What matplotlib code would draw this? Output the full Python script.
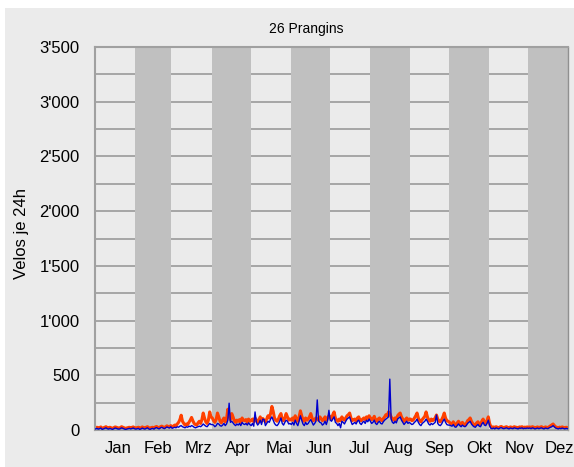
import matplotlib
matplotlib.use("Agg")
import matplotlib.pyplot as plt
from matplotlib.ticker import FuncFormatter, MultipleLocator
from matplotlib.patches import Rectangle
import numpy as np

plt.rcParams['font.family'] = ['Liberation Sans', 'DejaVu Sans']

title = "26 Prangins"
ylabel = "Velos je 24h"
months = ["Jan", "Feb", "Mrz", "Apr", "Mai", "Jun", "Jul", "Aug", "Sep", "Okt", "Nov", "Dez"]
month_days = [31, 28, 31, 30, 31, 30, 31, 31, 30, 31, 30, 31]

orange_jan = [20,25,18,22,28,15,20,24,30,22,18,25,20,15,22,28,25,20,18,22,30,25,20,15,18,22,25,20,24,28,22]
blue_jan = [10,15,8,12,18,5,10,14,20,12,8,15,10,5,12,18,15,10,8,12,20,15,10,5,8,12,15,10,14,18,12]
orange_feb = [18,22,25,15,20,28,22,18,25,30,20,15,22,25,18,28,32,25,20,30,35,28,22,30,38,32,28,40]
blue_feb = [8,12,15,5,10,18,12,8,15,20,10,5,12,15,8,18,22,15,10,20,25,18,12,20,28,22,18,30]
orange_mar = [30,35,45,40,55,70,95,135,80,60,45,55,50,70,90,115,85,60,50,45,65,80,60,95,155,110,75,60,90,165,120]
blue_mar = [15,20,25,20,30,25,35,40,30,25,20,30,25,35,30,40,35,25,20,25,30,35,30,40,55,45,35,30,45,60,50]
orange_apr = [110,85,70,95,155,120,80,65,90,110,75,100,190,140,95,150,120,85,70,90,80,95,70,110,90,85,95,70,100,80]
blue_apr = [50,45,30,40,60,55,40,35,45,60,40,55,90,245,70,80,65,50,40,55,45,60,40,70,55,50,60,45,65,50]
orange_may = [85,100,75,110,90,70,95,120,80,105,90,75,100,130,110,150,215,170,110,90,80,100,130,150,95,85,110,150,120,90,100]
blue_may = [40,60,35,165,70,45,60,90,50,100,95,40,60,80,70,100,120,90,60,45,40,55,80,110,60,45,70,90,80,55,60]
orange_jun = [90,110,85,130,100,80,120,175,130,95,80,110,90,100,120,150,110,85,95,110,100,90,120,105,85,95,120,90,110,130]
blue_jun = [50,70,45,90,60,40,80,130,90,55,40,70,50,60,80,95,70,45,60,80,275,85,70,65,45,55,80,50,90,180]
orange_jul = [120,100,140,165,110,90,80,100,85,120,100,90,110,130,140,155,110,85,95,100,80,110,120,90,85,100,110,95,120,105,130]
blue_jul = [90,80,100,120,70,60,40,60,20,80,70,55,80,100,110,120,80,50,60,70,55,80,90,60,50,70,80,60,90,75,100]
orange_aug = [110,95,100,125,90,80,100,110,95,85,105,120,140,130,165,150,120,100,90,110,95,130,145,155,120,100,80,95,110,90,100]
blue_aug = [80,60,70,90,60,50,70,80,60,55,75,90,100,110,120,465,100,70,60,80,65,100,110,120,90,70,50,65,80,60,70]
orange_sep = [100,85,90,110,130,155,110,85,75,95,110,125,165,120,90,80,100,85,95,110,137,100,80,75,95,120,155,110,85,80]
blue_sep = [60,50,55,70,80,100,70,50,40,60,70,80,100,80,55,45,60,50,60,70,137,60,45,40,55,80,100,70,50,45]
orange_oct = [70,60,55,75,50,45,65,80,60,50,70,55,45,60,85,95,110,80,60,50,45,65,75,55,50,80,100,70,60,85,120]
blue_oct = [45,40,35,50,30,25,40,55,40,30,45,35,30,40,60,70,80,55,40,30,25,40,50,35,30,55,70,45,40,60,90]
orange_nov = [60,30,25,28,22,30,25,20,28,32,25,22,26,30,24,20,28,25,22,30,26,24,20,28,25,30,22,26,24,28]
blue_nov = [40,15,12,18,10,20,15,10,18,22,15,12,16,20,14,10,18,15,12,20,16,14,10,18,15,20,12,16,14,18]
orange_dec = [25,28,22,30,26,20,24,28,22,26,30,24,20,28,25,22,30,38,45,55,40,28,24,20,26,22,28,24,20,25,22]
blue_dec = [15,18,12,20,16,10,14,18,12,16,20,14,10,18,15,12,20,25,30,40,28,18,14,10,16,12,18,14,10,15,12]

orange = (orange_jan + orange_feb + orange_mar + orange_apr + orange_may + orange_jun +
          orange_jul + orange_aug + orange_sep + orange_oct + orange_nov + orange_dec)
blue = (blue_jan + blue_feb + blue_mar + blue_apr + blue_may + blue_jun +
        blue_jul + blue_aug + blue_sep + blue_oct + blue_nov + blue_dec)

days = np.arange(len(orange)) + 0.5
starts = np.concatenate([[0], np.cumsum(month_days)])

fig = plt.figure(figsize=(5.74, 4.67), dpi=100)
fig.patch.set_facecolor('white')
fig.patches.append(Rectangle((5/574, 0), 1, (467-8)/467, transform=fig.transFigure,
                             facecolor='#ebebeb', edgecolor='none', zorder=-10))

ax = fig.add_axes([95/574, (467-430)/467, (568-95)/574, (430-47)/467])
ax.set_facecolor('#ebebeb')

for i in range(1, 12, 2):
    ax.axvspan(starts[i], starts[i+1], color='#c0c0c0', zorder=1, lw=0)

ax.set_ylim(0, 3500)
ax.set_xlim(0, 365)
ax.yaxis.set_major_locator(MultipleLocator(500))
ax.yaxis.set_minor_locator(MultipleLocator(250))
ax.yaxis.set_major_formatter(FuncFormatter(lambda v, p: f"{int(v):,}".replace(",", "'")))
ax.grid(axis='y', which='both', color='#a0a0a0', lw=1.3, zorder=0.5)
ax.set_axisbelow(True)

ax.plot(days, blue, color='#0000cc', lw=1.0, zorder=3)
ax.plot(days, orange, color='#ff4000', lw=2.2, zorder=2.5)

tick_pos = [17.7 + 31.0 * i for i in range(12)]
ax.set_xticks(tick_pos)
ax.set_xticklabels(months)
ax.tick_params(axis='both', which='both', length=0, labelsize=12, colors='black')
ax.tick_params(axis='x', pad=8)
ax.tick_params(axis='y', pad=11)

for s in ['left', 'top', 'bottom']:
    ax.spines[s].set_color('#a0a0a0')
    ax.spines[s].set_linewidth(1.5)
ax.spines['right'].set_color('#909090')
ax.spines['right'].set_linewidth(1.0)

ax.set_ylabel(ylabel, fontsize=12)
ax.yaxis.set_label_coords(22/574, 0.5, transform=fig.transFigure)
ax.yaxis.label.set_va('center')
fig.text(269/574, 1 - 28.5/467, title, ha='left', va='center', fontsize=10)

fig.savefig("out.png", dpi=100, facecolor=fig.get_facecolor())
